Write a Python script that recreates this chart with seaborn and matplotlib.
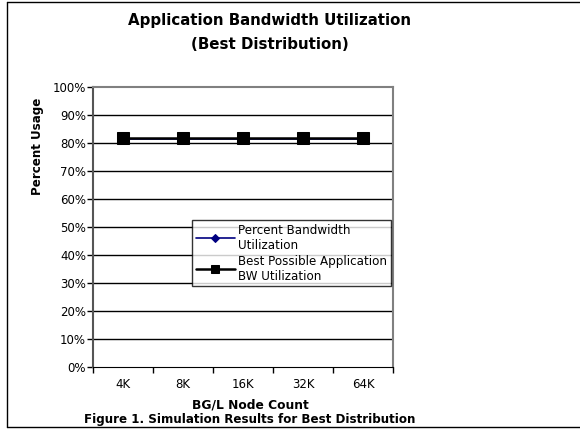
import numpy as np
import matplotlib.pyplot as plt
import pandas as pd
import seaborn as sns
from matplotlib.lines import Line2D
from matplotlib.ticker import FixedLocator

nodeCounts = ["4K", "8K", "16K", "32K", "64K"]
bandwidthUtil = [81.3, 81.3, 81.3, 81.3, 81.3]
bestPossible = [81.9, 81.9, 81.9, 81.9, 81.9]
yTicks = [0, 10, 20, 30, 40, 50, 60, 70, 80, 90, 100]

sns.set_style("white")
plt.rcParams["font.family"] = ["DejaVu Sans"]
plt.rcParams["text.color"] = "black"
plt.rcParams["xtick.color"] = "black"
plt.rcParams["ytick.color"] = "black"
plt.rcParams["axes.labelcolor"] = "black"

data = pd.DataFrame({"nodes": nodeCounts, "util": bandwidthUtil, "best": bestPossible})

fig = plt.figure(figsize=(5.8, 4.34), dpi=100)
fig.patch.set_edgecolor("none")
fig.patch.set_linewidth(0)
ax = fig.add_axes([93 / 580, 67 / 434, 300 / 580, 280 / 434])

sns.lineplot(data=data, x="nodes", y="util", ax=ax, color="#000080", marker="D",
             markersize=5, markeredgecolor="#000080", linewidth=1.2,
             label="Percent Bandwidth\nUtilization", sort=False)
sns.lineplot(data=data, x="nodes", y="best", ax=ax, color="black", marker="s",
             markersize=8, markeredgecolor="black", linewidth=1.8,
             label="Best Possible Application\nBW Utilization", sort=False)

ax.set_xlim(-0.5, 4.5)
ax.set_ylim(0, 100)
ax.set_yticks(yTicks)
ax.set_yticklabels([f"{t}%" for t in yTicks], fontsize=8.5)
ax.set_xticks(range(len(nodeCounts)))
ax.set_xticklabels(nodeCounts, fontsize=8.5)
ax.xaxis.set_minor_locator(FixedLocator(np.arange(-0.5, 5, 1)))
ax.tick_params(axis="x", which="major", length=0, pad=8)
ax.tick_params(axis="x", which="minor", length=4, width=1, color="black", direction="out", bottom=True)
ax.tick_params(axis="y", length=4, width=1, color="black", direction="out", left=True, pad=1)
for t in yTicks[1:-1]:
    ax.axhline(t, color="black", linewidth=1, zorder=0)
for side in ["top", "right"]:
    ax.spines[side].set_color("#808080")
    ax.spines[side].set_linewidth(1.5)
ax.spines["left"].set_color("#555555")
ax.spines["left"].set_linewidth(1.5)
ax.spines["bottom"].set_color("black")
ax.set_xlabel("")
ax.set_ylabel("")

leg = ax.legend(loc="upper left", bbox_to_anchor=(192 / 580, 1 - 220 / 434), bbox_transform=fig.transFigure,
                fontsize=8.6, frameon=True, fancybox=False, edgecolor="black", borderpad=0.3,
                handlelength=3.3, handletextpad=0.25, labelspacing=0.25, borderaxespad=0)
leg.get_frame().set_linewidth(1)
for h, ms in zip(leg.legend_handles, [4.5, 6]):
    h.set_markersize(ms)

fig.text(0.5 * (130 + 410) / 580, 1 - 13 / 434, "Application Bandwidth Utilization\n(Best Distribution)",
         ha="center", va="top", fontsize=10.8, fontweight="bold", linespacing=1.75)
fig.text(37 / 580, 1 - 146 / 434, "Percent Usage", rotation=90, ha="center", va="center",
         fontsize=8.6, fontweight="bold")
fig.text(250 / 580, 1 - 405 / 434, "BG/L Node Count", ha="center", va="center", fontsize=8.8, fontweight="bold")
fig.text(250 / 580, 1 - 419 / 434, "Figure 1. Simulation Results for Best Distribution", ha="center",
         va="center", fontsize=8.6, fontweight="bold")

# page frame: top, bottom and left edges only
fig.add_artist(Line2D([7 / 580, 1.01], [1 - 2 / 434, 1 - 2 / 434], color="black", linewidth=1))
fig.add_artist(Line2D([7 / 580, 1.01], [1 - 427 / 434, 1 - 427 / 434], color="black", linewidth=1))
fig.add_artist(Line2D([7 / 580, 7 / 580], [1 - 2 / 434, 1 - 427 / 434], color="black", linewidth=1))

fig.savefig("out.png", dpi=100)
